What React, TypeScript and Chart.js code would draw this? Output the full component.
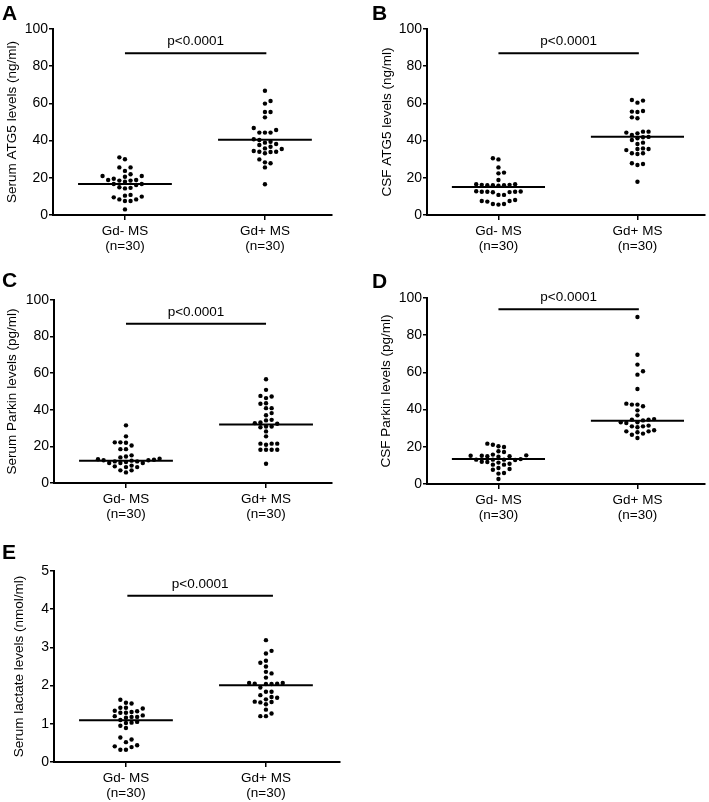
import React, { useEffect, useRef } from 'react';
import { Chart, registerables } from 'chart.js';

Chart.register(...registerables);

// ---------- data ----------
const groupNames = ['Gd- MS', 'Gd+ MS'];
const groupCounts = ['(n=30)', '(n=30)'];
const pValueText = 'p<0.0001';

const serumAtg5Neg = [31, 30, 25.6, 25.6, 23.7, 21, 21.9, 20.6, 21, 19.5, 18.8, 18.5, 18.5, 17.9, 18.8, 16.7, 16.7, 16.1, 14.9, 14.3, 14.6, 10.8, 9.9, 10.4, 9.5, 8.4, 7.5, 7.5, 8.4, 3.0];
const serumAtg5Pos = [66.8, 61.3, 59.9, 55.4, 55.4, 52.5, 45.7, 44.3, 44.3, 44.3, 46.8, 40.3, 40.7, 38.9, 39.4, 38.2, 35.8, 37.6, 36.7, 35.5, 34.0, 33.2, 34.0, 34.4, 33.9, 27.8, 28.3, 29.9, 25.6, 16.5];
const serumAtg5Medians = [16.7, 40.4];

const csfAtg5Neg = [30.5, 29.9, 25.6, 22.8, 22.4, 18.8, 16.5, 16.0, 16.2, 16.0, 16.5, 16.2, 15.8, 16.0, 12.8, 12.5, 12.3, 12.6, 12.5, 12.2, 12.5, 10.8, 10.8, 8.1, 7.5, 7.5, 7.2, 5.9, 5.6, 5.9];
const csfAtg5Pos = [61.8, 61.5, 60.4, 55.6, 55.4, 55.9, 52.0, 52.5, 44.8, 44.3, 43.9, 44.8, 43.0, 41.8, 41.2, 40.3, 38.2, 38.9, 35.8, 35.5, 34.9, 35.5, 33.2, 33.2, 32.8, 27.4, 27.8, 26.9, 17.9, 42.0];
const csfAtg5Medians = [15.0, 42.1];

const serumParkinNeg = [31.5, 25.5, 22.2, 22.2, 22.0, 18.5, 18.5, 15.1, 14.0, 14.5, 13.3, 12.7, 12.4, 11.8, 11.8, 12.4, 12.2, 11.5, 10.9, 10.9, 10.9, 9.1, 8.7, 8.7, 9.5, 6.9, 5.8, 6.9, 20.5, 13.0];
const serumParkinPos = [56.7, 50.9, 47.3, 46.4, 47.6, 43.6, 43.3, 40.9, 40.9, 38.2, 34.5, 34.2, 33.1, 32.7, 32.4, 30.9, 30.5, 30.9, 28.2, 25.5, 21.5, 20.9, 21.5, 21.5, 18.2, 18.2, 18.2, 18.2, 10.5, 37.0];
const serumParkinMedians = [12.1, 32.0];

const csfParkinNeg = [21.1, 21.7, 20.3, 19.9, 17.6, 17.2, 15.4, 15.2, 14.7, 14.9, 14.9, 15.2, 15.8, 13.1, 13.1, 13.1, 13.4, 12.9, 12.0, 10.4, 10.9, 10.4, 11.5, 8.1, 8.6, 7.7, 5.9, 5.6, 2.7, 11.8];
const csfParkinPos = [89.8, 69.5, 64.2, 60.6, 58.8, 51.1, 43.2, 42.7, 41.8, 42.7, 39.6, 36.9, 34.9, 34.6, 34.2, 34.6, 33.2, 33.2, 32.8, 31.4, 31.0, 31.0, 28.3, 28.3, 27.8, 28.9, 27.1, 26.5, 24.7, 30.5];
const csfParkinMedians = [13.4, 34.0];

const serumLactateNeg = [1.63, 1.53, 1.55, 1.42, 1.42, 1.40, 1.31, 1.34, 1.29, 1.29, 1.18, 1.16, 1.20, 1.18, 1.05, 1.02, 1.03, 0.89, 0.64, 0.59, 0.52, 0.44, 0.39, 0.41, 0.32, 0.32, 1.10, 0.95, 1.22, 1.33];
const serumLactatePos = [3.19, 2.91, 2.84, 2.65, 2.60, 2.32, 2.36, 2.21, 2.07, 2.05, 2.07, 2.04, 2.04, 2.05, 1.84, 1.84, 1.70, 1.68, 1.64, 1.57, 1.56, 1.58, 1.51, 1.37, 1.27, 1.20, 1.20, 2.50, 1.95, 1.75];
const serumLactateMedians = [1.09, 2.01];

const bracketLevels = [87, 87, 87, 94, 4.35];
const bracketStarts = [1.0, 1.0, 1.0, 1.0, 1.01];
const bracketEnds = [2.01, 2.01, 2.0, 2.01, 2.05];

// ---------- layout ----------
const FONT = '"Liberation Sans", Arial, Helvetica, sans-serif';
const X_AXIS_H = 38;
const MEDIAN_HALF = 0.335;

type Box = { x: number; y: number; w: number; h: number };
type Area = { l: number; t: number; r: number; b: number };
type PanelCfg = {
  letter: string;
  letterPos: [number, number];
  title: string;
  titlePad: number;
  neg: number[];
  pos: number[];
  medians: number[];
  yMax: number;
  yStep: number;
  idx: number;
  box: Box;
  area: Area;
  xMax: number;
};

const X_MIN = 0.486;

const panels: PanelCfg[] = [
  { letter: 'A', letterPos: [2, 20], title: 'Serum ATG5 levels (ng/ml)', titlePad: 4, neg: serumAtg5Neg, pos: serumAtg5Pos, medians: serumAtg5Medians, yMax: 100, yStep: 20, idx: 0,
    box: { x: 0, y: 0, w: 354, h: 262 }, area: { l: 53, t: 29, r: 332, b: 215 }, xMax: 2.479 },
  { letter: 'B', letterPos: [17, 20], title: 'CSF ATG5 levels (ng/ml)', titlePad: 24, neg: csfAtg5Neg, pos: csfAtg5Pos, medians: csfAtg5Medians, yMax: 100, yStep: 20, idx: 1,
    box: { x: 355, y: 0, w: 354, h: 262 }, area: { l: 427, t: 29, r: 707, b: 215 }, xMax: 2.486 },
  { letter: 'C', letterPos: [2, 37], title: 'Serum Parkin levels (pg/ml)', titlePad: 4, neg: serumParkinNeg, pos: serumParkinPos, medians: serumParkinMedians, yMax: 100, yStep: 20, idx: 2,
    box: { x: 0, y: 250, w: 354, h: 280 }, area: { l: 54, t: 300, r: 332, b: 483 }, xMax: 2.471 },
  { letter: 'D', letterPos: [17, 38], title: 'CSF Parkin levels (pg/ml)', titlePad: 23, neg: csfParkinNeg, pos: csfParkinPos, medians: csfParkinMedians, yMax: 100, yStep: 20, idx: 3,
    box: { x: 355, y: 250, w: 354, h: 280 }, area: { l: 427, t: 298, r: 707, b: 484 }, xMax: 2.486 },
  { letter: 'E', letterPos: [2, 59], title: 'Serum lactate levels (nmol/ml)', titlePad: 11, neg: serumLactateNeg, pos: serumLactatePos, medians: serumLactateMedians, yMax: 5, yStep: 1, idx: 4,
    box: { x: 0, y: 500, w: 354, h: 302 }, area: { l: 54, t: 571, r: 340, b: 762 }, xMax: 2.529 },
];

// beeswarm arrangement of dots around a group centre (layout only)
function swarm(values: number[], center: number, pxX: number, pxY: number) {
  const order = values.map((_, i) => i).sort((a, b) => values[a] - values[b]);
  const placed: { x: number; y: number }[] = [];
  const out: { x: number; y: number }[] = [];
  const step = 5.6;
  const minD = 4.7;
  order.forEach((i, n) => {
    const py = values[i] * pxY;
    const flip = n % 2 === 0 ? 1 : -1;
    let chosen = 0;
    for (let k = 0; k < 40; k++) {
      const off = k === 0 ? 0 : (k % 2 === 1 ? 1 : -1) * flip * Math.ceil(k / 2) * step;
      const ok = placed.every((p) => Math.hypot(p.x - off, p.y - py) >= minD);
      if (ok) { chosen = off; break; }
    }
    placed.push({ x: chosen, y: py });
    out.push({ x: center + chosen / pxX, y: values[i] });
  });
  return out;
}

const annotPlugin = {
  id: 'annot',
  afterDraw(chart: any, _args: any, opts: any) {
    const { ctx, scales } = chart;
    ctx.save();
    ctx.fillStyle = '#000';
    ctx.textBaseline = 'alphabetic';
    ctx.textAlign = 'left';
    ctx.font = `bold 21px ${FONT}`;
    ctx.fillText(opts.letter, opts.letterX, opts.letterY);
    const x1 = scales.x.getPixelForValue(opts.from);
    const x2 = scales.x.getPixelForValue(opts.to);
    const y = scales.y.getPixelForValue(opts.level) - 8;
    ctx.font = `13.5px ${FONT}`;
    ctx.textAlign = 'center';
    ctx.fillText(opts.text, (x1 + x2) / 2, y);
    ctx.restore();
  },
};

function Panel({ cfg }: { cfg: PanelCfg }) {
  const ref = useRef<HTMLCanvasElement>(null);
  useEffect(() => {
    const { box, area } = cfg;
    const pxX = (area.r - area.l) / (cfg.xMax - X_MIN);
    const pxY = (area.b - area.t) / cfg.yMax;
    const lineDs = (pts: { x: number; y: number }[]) => ({
      data: pts,
      showLine: true,
      borderColor: '#000',
      borderWidth: 2,
      pointRadius: 0,
      pointHoverRadius: 0,
    });
    const dotDs = (pts: { x: number; y: number }[]) => ({
      data: pts,
      showLine: false,
      backgroundColor: '#000',
      borderColor: '#000',
      borderWidth: 0,
      pointRadius: 2.2,
    });
    const i = cfg.idx;
    const chart = new Chart(ref.current as HTMLCanvasElement, {
      type: 'scatter',
      data: {
        datasets: [
          dotDs(swarm(cfg.neg, 1, pxX, pxY)),
          dotDs(swarm(cfg.pos, 2, pxX, pxY)),
          lineDs([{ x: 1 - MEDIAN_HALF, y: cfg.medians[0] }, { x: 1 + MEDIAN_HALF, y: cfg.medians[0] }]),
          lineDs([{ x: 2 - MEDIAN_HALF, y: cfg.medians[1] }, { x: 2 + MEDIAN_HALF, y: cfg.medians[1] }]),
          lineDs([{ x: bracketStarts[i], y: bracketLevels[i] }, { x: bracketEnds[i], y: bracketLevels[i] }]),
        ] as any,
      },
      options: {
        responsive: false,
        animation: false,
        events: [],
        layout: {
          padding: {
            left: 0,
            top: area.t - box.y,
            right: box.x + box.w - area.r,
            bottom: box.y + box.h - area.b - X_AXIS_H,
          },
        },
        plugins: {
          legend: { display: false },
          tooltip: { enabled: false },
          annot: {
            letter: cfg.letter,
            letterX: cfg.letterPos[0],
            letterY: cfg.letterPos[1],
            from: bracketStarts[i],
            to: bracketEnds[i],
            level: bracketLevels[i],
            text: pValueText,
          },
        } as any,
        scales: {
          x: {
            type: 'linear',
            min: X_MIN,
            max: cfg.xMax,
            afterBuildTicks: (scale: any) => {
              scale.ticks = [{ value: 1 }, { value: 2 }];
            },
            afterFit: (scale: any) => {
              scale.height = X_AXIS_H;
            },
            ticks: {
              color: '#000',
              font: { family: FONT, size: 13.5, lineHeight: 1.1 },
              padding: 4,
              maxRotation: 0,
              callback: (_v: any, index: number) => [groupNames[index], groupCounts[index]],
            },
            grid: { drawOnChartArea: false, color: '#000', lineWidth: 1.5, tickLength: 5 },
            border: { color: '#000', width: 2 },
          },
          y: {
            type: 'linear',
            min: 0,
            max: cfg.yMax,
            afterFit: (scale: any) => {
              scale.width = area.l - box.x;
            },
            ticks: {
              stepSize: cfg.yStep,
              color: '#000',
              font: { family: FONT, size: 14 },
              padding: 1,
            },
            grid: { drawOnChartArea: false, color: '#000', lineWidth: 1.5, tickLength: 4 },
            border: { color: '#000', width: 2 },
            title: {
              display: true,
              text: cfg.title,
              color: '#000',
              font: { family: FONT, size: 13.5 },
              padding: { top: cfg.titlePad, bottom: 0 },
            },
          },
        },
      } as any,
      plugins: [annotPlugin],
    });
    return () => chart.destroy();
  }, [cfg]);
  const { box } = cfg;
  return (
    <canvas
      ref={ref}
      width={box.w}
      height={box.h}
      style={{ position: 'absolute', left: box.x, top: box.y, width: box.w, height: box.h }}
    />
  );
}

export default function App() {
  return (
    <div style={{ position: 'absolute', left: 0, top: 0, width: 709, height: 802, background: '#fff', overflow: 'hidden' }}>
      {panels.map((p) => (
        <Panel key={p.letter} cfg={p} />
      ))}
    </div>
  );
}
